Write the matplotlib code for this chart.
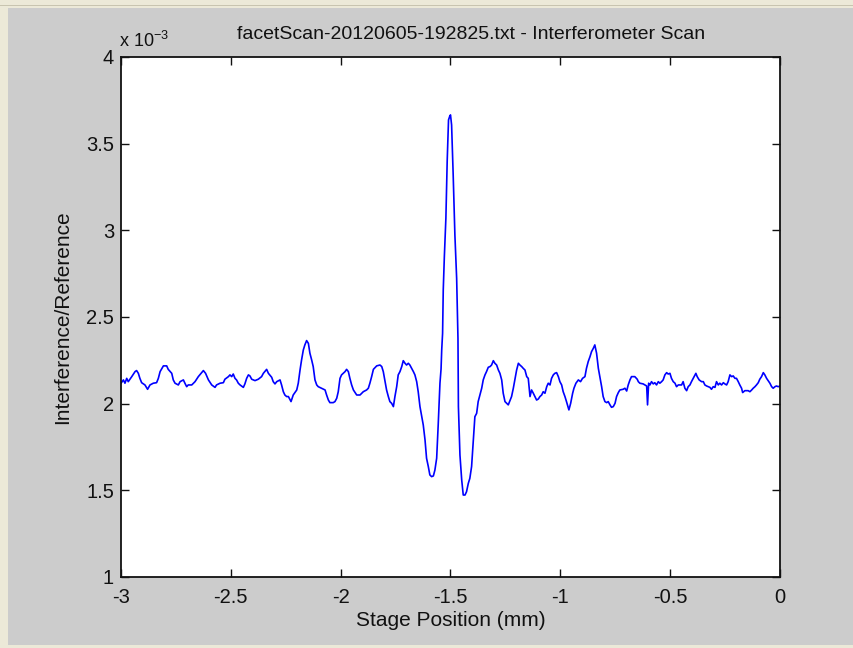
import matplotlib
matplotlib.use("Agg")
import matplotlib.pyplot as plt
import numpy as np
from matplotlib.patches import Rectangle

plt.rcParams['font.family'] = ['Liberation Sans', 'DejaVu Sans']

# Stage position (mm)
stage_mm = [
    -3.000, -2.989, -2.982, -2.974, -2.967, -2.959, -2.951, -2.936, -2.929, -2.921,
    -2.914, -2.906, -2.891, -2.879, -2.868, -2.853, -2.838, -2.830, -2.822, -2.807,
    -2.792, -2.785, -2.769, -2.762, -2.754, -2.739, -2.731, -2.716, -2.709, -2.701,
    -2.694, -2.678, -2.663, -2.648, -2.633, -2.625, -2.615, -2.602, -2.587, -2.572,
    -2.565, -2.549, -2.534, -2.527, -2.511, -2.504, -2.496, -2.489, -2.481, -2.474,
    -2.466, -2.458, -2.443, -2.436, -2.428, -2.420, -2.413, -2.405, -2.390, -2.375,
    -2.360, -2.352, -2.337, -2.329, -2.314, -2.307, -2.299, -2.291, -2.276, -2.269,
    -2.261, -2.254, -2.246, -2.238, -2.226, -2.216, -2.200, -2.193, -2.185, -2.178,
    -2.170, -2.163, -2.155, -2.147, -2.140, -2.132, -2.125, -2.117, -2.109, -2.102,
    -2.087, -2.071, -2.064, -2.056, -2.049, -2.034, -2.026, -2.018, -2.011, -2.003,
    -1.996, -1.980, -1.973, -1.965, -1.958, -1.950, -1.942, -1.927, -1.912, -1.897,
    -1.882, -1.874, -1.867, -1.859, -1.851, -1.836, -1.821, -1.813, -1.806, -1.798,
    -1.791, -1.783, -1.776, -1.768, -1.760, -1.753, -1.745, -1.738, -1.730, -1.722,
    -1.715, -1.707, -1.700, -1.692, -1.685, -1.677, -1.669, -1.662, -1.654, -1.647,
    -1.639, -1.631, -1.624, -1.616, -1.609, -1.601, -1.594, -1.586, -1.578, -1.571,
    -1.563, -1.556, -1.548, -1.543, -1.540, -1.536, -1.533, -1.528, -1.521, -1.515,
    -1.509, -1.503, -1.500, -1.495, -1.488, -1.480, -1.472, -1.466, -1.464, -1.457,
    -1.449, -1.442, -1.434, -1.427, -1.419, -1.412, -1.404, -1.396, -1.389, -1.381,
    -1.374, -1.358, -1.351, -1.343, -1.336, -1.328, -1.320, -1.313, -1.305, -1.298,
    -1.290, -1.282, -1.275, -1.267, -1.260, -1.252, -1.237, -1.222, -1.214, -1.207,
    -1.199, -1.191, -1.184, -1.176, -1.169, -1.161, -1.153, -1.146, -1.138, -1.131,
    -1.123, -1.108, -1.100, -1.093, -1.085, -1.078, -1.070, -1.062, -1.055, -1.047,
    -1.040, -1.032, -1.025, -1.017, -1.009, -1.002, -0.994, -0.987, -0.979, -0.972,
    -0.961, -0.953, -0.944, -0.938, -0.929, -0.918, -0.908, -0.899, -0.888, -0.881,
    -0.873, -0.865, -0.858, -0.850, -0.843, -0.835, -0.827, -0.820, -0.812, -0.805,
    -0.797, -0.789, -0.782, -0.774, -0.767, -0.759, -0.751, -0.744, -0.736, -0.729,
    -0.714, -0.706, -0.698, -0.691, -0.683, -0.676, -0.661, -0.650, -0.645, -0.638,
    -0.623, -0.615, -0.607, -0.603, -0.598, -0.592, -0.585, -0.577, -0.570, -0.562,
    -0.554, -0.547, -0.539, -0.532, -0.524, -0.516, -0.509, -0.501, -0.494, -0.486,
    -0.478, -0.471, -0.463, -0.448, -0.441, -0.433, -0.425, -0.418, -0.410, -0.403,
    -0.395, -0.387, -0.383, -0.377, -0.368, -0.357, -0.349, -0.342, -0.334, -0.327,
    -0.319, -0.312, -0.304, -0.296, -0.289, -0.281, -0.274, -0.266, -0.258, -0.251,
    -0.243, -0.236, -0.228, -0.220, -0.213, -0.205, -0.198, -0.190, -0.183, -0.175,
    -0.170, -0.160, -0.145, -0.137, -0.129, -0.122, -0.114, -0.107, -0.099, -0.092,
    -0.084, -0.076, -0.069, -0.061, -0.054, -0.046, -0.038, -0.031, -0.023, -0.016,
    -0.008, 0.000,
]

# Interference/Reference ratio, in units of 1e-3
ratio_e3 = [
    2.118, 2.137, 2.118, 2.146, 2.127, 2.141, 2.156, 2.185, 2.191, 2.175,
    2.146, 2.121, 2.108, 2.083, 2.108, 2.118, 2.121, 2.146, 2.185, 2.218,
    2.218, 2.198, 2.175, 2.137, 2.118, 2.108, 2.127, 2.137, 2.118, 2.098,
    2.108, 2.108, 2.127, 2.156, 2.179, 2.191, 2.175, 2.137, 2.108, 2.094,
    2.108, 2.118, 2.121, 2.141, 2.156, 2.166, 2.156, 2.171, 2.146, 2.137,
    2.118, 2.108, 2.094, 2.114, 2.146, 2.166, 2.160, 2.141, 2.133, 2.141,
    2.156, 2.175, 2.198, 2.175, 2.152, 2.127, 2.114, 2.127, 2.137, 2.108,
    2.069, 2.050, 2.041, 2.041, 2.012, 2.050, 2.079, 2.118, 2.194, 2.252,
    2.310, 2.339, 2.364, 2.348, 2.291, 2.252, 2.214, 2.137, 2.108, 2.098,
    2.089, 2.079, 2.050, 2.021, 2.006, 2.006, 2.012, 2.031, 2.069, 2.146,
    2.166, 2.185, 2.198, 2.185, 2.146, 2.108, 2.079, 2.050, 2.050, 2.069,
    2.079, 2.089, 2.118, 2.156, 2.198, 2.218, 2.223, 2.214, 2.185, 2.127,
    2.079, 2.041, 2.012, 2.002, 1.983, 2.041, 2.098, 2.166, 2.185, 2.214,
    2.248, 2.233, 2.223, 2.233, 2.223, 2.204, 2.185, 2.166, 2.127, 2.069,
    1.983, 1.925, 1.877, 1.791, 1.685, 1.637, 1.589, 1.579, 1.583, 1.617,
    1.685, 1.877, 2.118, 2.200, 2.310, 2.406, 2.656, 2.848, 3.070, 3.402,
    3.637, 3.660, 3.666, 3.608, 3.329, 2.973, 2.723, 2.377, 1.983, 1.704,
    1.560, 1.473, 1.473, 1.492, 1.540, 1.569, 1.637, 1.791, 1.925, 1.944,
    2.012, 2.089, 2.137, 2.166, 2.185, 2.210, 2.214, 2.223, 2.248, 2.233,
    2.223, 2.194, 2.175, 2.137, 2.060, 2.012, 1.993, 2.041, 2.089, 2.137,
    2.194, 2.233, 2.223, 2.214, 2.204, 2.194, 2.156, 2.146, 2.041, 2.079,
    2.060, 2.021, 2.027, 2.041, 2.050, 2.069, 2.060, 2.098, 2.118, 2.108,
    2.146, 2.166, 2.175, 2.179, 2.156, 2.127, 2.108, 2.069, 2.041, 2.012,
    1.964, 2.002, 2.060, 2.089, 2.118, 2.137, 2.127, 2.146, 2.156, 2.204,
    2.243, 2.271, 2.300, 2.319, 2.339, 2.291, 2.204, 2.156, 2.098, 2.041,
    2.012, 2.006, 2.012, 1.993, 1.979, 1.983, 2.002, 2.041, 2.064, 2.079,
    2.083, 2.089, 2.073, 2.108, 2.137, 2.156, 2.156, 2.141, 2.127, 2.118,
    2.114, 2.108, 2.102, 1.993, 2.118, 2.108, 2.127, 2.114, 2.121, 2.108,
    2.127, 2.118, 2.127, 2.137, 2.166, 2.179, 2.171, 2.175, 2.146, 2.127,
    2.118, 2.098, 2.108, 2.108, 2.127, 2.089, 2.075, 2.098, 2.108, 2.127,
    2.146, 2.166, 2.175, 2.156, 2.137, 2.127, 2.127, 2.108, 2.102, 2.098,
    2.094, 2.083, 2.098, 2.094, 2.127, 2.108, 2.118, 2.108, 2.121, 2.114,
    2.108, 2.127, 2.166, 2.156, 2.160, 2.146, 2.146, 2.127, 2.108, 2.089,
    2.064, 2.075, 2.075, 2.069, 2.079, 2.089, 2.098, 2.108, 2.121, 2.141,
    2.156, 2.179, 2.166, 2.146, 2.133, 2.118, 2.098, 2.089, 2.098, 2.102,
    2.098, 2.102,
]

x_ticks = [-3, -2.5, -2, -1.5, -1, -0.5, 0]
x_ticklabels = ['-3', '-2.5', '-2', '-1.5', '-1', '-0.5', '0']
y_ticks_e3 = [1, 1.5, 2, 2.5, 3, 3.5, 4]
y_ticklabels = ['1', '1.5', '2', '2.5', '3', '3.5', '4']

title = 'facetScan-20120605-192825.txt - Interferometer Scan'
xlabel = 'Stage Position (mm)'
ylabel = 'Interference/Reference'

W, H = 854, 648
fig = plt.figure(figsize=(W / 100, H / 100), dpi=100, facecolor='#ece9d8')
# gray client area of the window
fig.add_artist(Rectangle((8 / W, 1 - 645 / H), 1 - 8 / W, (645 - 8) / H,
                         transform=fig.transFigure, facecolor='#cccccc',
                         edgecolor='none', zorder=-10))
fig.add_artist(Rectangle((0, 1 - 6 / H), 1, 1 / H, transform=fig.transFigure,
                         facecolor='#c8c4b0', edgecolor='none', zorder=-10))

ax = fig.add_axes([121 / W, 1 - 577 / H, (780 - 121) / W, (577 - 57) / H])
ax.set_zorder(1)
ax.set_facecolor('white')

y = np.array(ratio_e3) * 1e-3
ax.plot(stage_mm, y, color='#0000ff', lw=1.2)

ax.set_xlim(-3, 0)
ax.set_ylim(1e-3, 4e-3)
ax.set_xticks(x_ticks)
ax.set_xticklabels(x_ticklabels)
ax.set_yticks(np.array(y_ticks_e3) * 1e-3)
ax.set_yticklabels(y_ticklabels)
ax.tick_params(direction='in', top=True, right=True, length=6, width=1,
               labelsize=14.5, colors='#111111')
ax.tick_params(axis='x', pad=8)
ax.tick_params(axis='y', pad=5)
for s in ax.spines.values():
    s.set_linewidth(1.3)
    s.set_color('#111111')

ax.set_title(title, fontsize=14, pad=13, color='#111111', x=0.531)
ax.set_xlabel(xlabel, fontsize=15, labelpad=3, color='#111111')
ax.set_ylabel(ylabel, fontsize=15, labelpad=10, color='#111111')
ax.text(-0.003, 1.012, r'x 10$^{\mathregular{-3}}$', transform=ax.transAxes,
        fontsize=13, ha='left', va='bottom', color='#111111')

fig.savefig('out.png', dpi=100, facecolor=fig.get_facecolor())
